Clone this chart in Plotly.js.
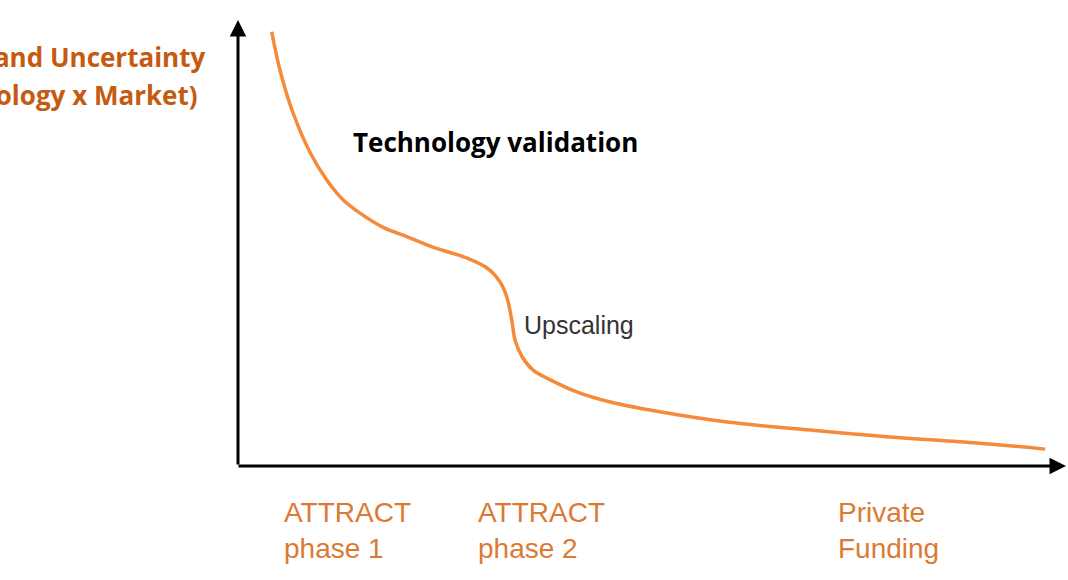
<!DOCTYPE html>
<html>
<head>
<meta charset="utf-8">
<script src="https://cdn.plot.ly/plotly-3.0.1.min.js"></script>
<style>html,body{margin:0;padding:0;background:#fff;}#chart{width:1068px;height:580px;}</style>
</head>
<body>
<div id="chart"></div>
<script>
// Funding progression (0-100 scale) vs risk and uncertainty (0-100 scale)
var progress = [4.1, 5.1, 6.7, 8.8, 10.8, 12.8, 14.8, 17.6, 20.6, 23.7, 27.9, 30.3, 31.9, 32.7, 33.3, 33.7, 34.6, 35.9, 38.0, 41.2, 45.3, 51.3, 59.5, 69.6, 79.7, 89.9, 98.2];
var risk     = [97.8, 89.2, 79.5, 70.5, 64.4, 59.9, 57.0, 53.8, 51.6, 49.3, 46.8, 44.6, 41.4, 38.1, 32.9, 28.4, 24.5, 21.6, 19.4, 16.7, 14.4, 12.2, 9.9, 8.1, 6.5, 5.2, 3.8];

var stageLabels = ["ATTRACT<br>phase 1", "ATTRACT<br>phase 2", "Private<br>Funding"];
var stageX = [5.3, 29.0, 72.8];

var phaseLabels = ["Technology validation", "Upscaling"];
var phaseX = [13.8, 34.5];
var phaseY = [73.0, 31.8];

var yTitleLines = ["Risk and Uncertainty", "(Technology x Market)"];

var orange = '#F58A3B';
var labelOrange = '#DB7A33';
var titleOrange = '#C55A11';

var trace = {
  x: progress, y: risk, type: 'scatter', mode: 'lines',
  line: {color: orange, width: 3.5, shape: 'spline', smoothing: 1},
  hoverinfo: 'skip'
};

var annotations = [];
// axis arrows
annotations.push({xref:'paper', yref:'paper', x:0, y:(466-20)/444, axref:'pixel', ayref:'pixel', ax:0, ay:446,
  text:'', showarrow:true, arrowhead:2, arrowsize:1.1, arrowwidth:3, arrowcolor:'#000', standoff:0, startstandoff:0});
annotations.push({xref:'paper', yref:'paper', x:(1066-238)/822, y:0, axref:'pixel', ayref:'pixel', ax:-829, ay:0,
  text:'', showarrow:true, arrowhead:2, arrowsize:1.1, arrowwidth:3, arrowcolor:'#000', standoff:0, startstandoff:0});

for (var i = 0; i < stageLabels.length; i++) {
  annotations.push({xref:'x', yref:'paper', x: stageX[i], y: -0.146, xanchor:'left', yanchor:'middle', align:'left',
    text: stageLabels[i], showarrow:false, font:{family:'Liberation Sans, Arial', size:28, color:labelOrange}});
}
annotations.push({xref:'x', yref:'y', x: phaseX[0], y: phaseY[0], xanchor:'left', yanchor:'middle',
  text: '<b>' + phaseLabels[0] + '</b>', showarrow:false, font:{family:'Open Sans', size:26, color:'#000'}});
annotations.push({xref:'x', yref:'y', x: phaseX[1], y: phaseY[1], xanchor:'left', yanchor:'middle',
  text: phaseLabels[1], showarrow:false, font:{family:'Liberation Sans, Arial', size:25, color:'#333'}});

annotations.push({xref:'paper', yref:'paper', x:(207-238)/822, y:(466-57)/444, xanchor:'right', yanchor:'middle',
  text:'<b>' + yTitleLines[0] + '</b>', showarrow:false, font:{family:'Open Sans', size:26, color:titleOrange}});
annotations.push({xref:'paper', yref:'paper', x:(200-238)/822, y:(466-95)/444, xanchor:'right', yanchor:'middle',
  text:'<b>' + yTitleLines[1] + '</b>', showarrow:false, font:{family:'Open Sans', size:26, color:titleOrange}});

var layout = {
  width:1068, height:580,
  margin:{l:238, r:8, t:22, b:114},
  paper_bgcolor:'#fff', plot_bgcolor:'#fff',
  showlegend:false, hovermode:false,
  xaxis:{range:[0,100], visible:false, fixedrange:true},
  yaxis:{range:[0,100], visible:false, fixedrange:true},
  annotations: annotations
};

Plotly.newPlot('chart', [trace], layout, {displayModeBar:false, staticPlot:true});
</script>
</body>
</html>
